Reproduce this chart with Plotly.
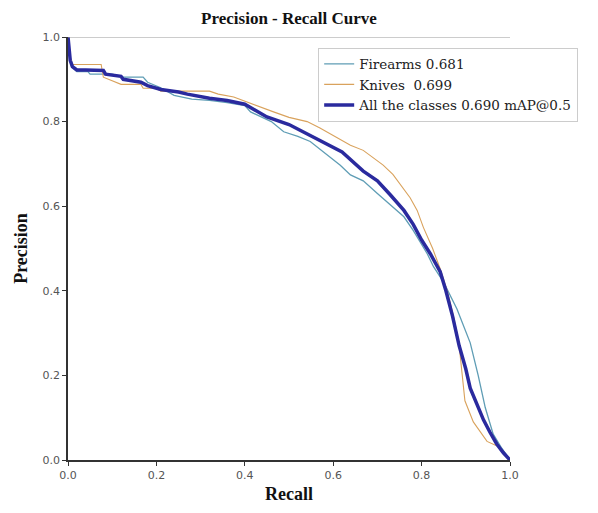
import plotly.graph_objects as go

# ---- data ----
firearms_r = [0, 0.003, 0.008, 0.02, 0.045, 0.05, 0.10, 0.125, 0.17, 0.18, 0.21, 0.24, 0.28, 0.32,
              0.36, 0.40, 0.413, 0.44, 0.46, 0.488, 0.52, 0.548, 0.58, 0.616, 0.639, 0.668, 0.70,
              0.729, 0.76, 0.781, 0.80, 0.813, 0.827, 0.85, 0.88, 0.91, 0.928, 0.944, 0.962, 0.98, 1.0]
firearms_p = [1.0, 0.96, 0.93, 0.918, 0.918, 0.912, 0.912, 0.905, 0.905, 0.893, 0.88, 0.862, 0.853, 0.85,
              0.845, 0.838, 0.823, 0.81, 0.80, 0.776, 0.765, 0.753, 0.727, 0.697, 0.674, 0.66, 0.63,
              0.604, 0.575, 0.543, 0.51, 0.487, 0.457, 0.42, 0.357, 0.277, 0.2, 0.124, 0.061, 0.03, 0.0]

knives_r = [0, 0.003, 0.01, 0.075, 0.08, 0.12, 0.165, 0.17, 0.20, 0.21, 0.32, 0.34, 0.375, 0.42,
            0.465, 0.50, 0.541, 0.57, 0.60, 0.639, 0.668, 0.713, 0.735, 0.752, 0.774, 0.79, 0.804,
            0.825, 0.842, 0.858, 0.872, 0.884, 0.890, 0.898, 0.917, 0.948, 0.977, 1.0]
knives_p = [1.0, 0.96, 0.935, 0.935, 0.905, 0.888, 0.888, 0.879, 0.879, 0.872, 0.872, 0.865, 0.858, 0.84,
            0.823, 0.81, 0.80, 0.785, 0.767, 0.744, 0.732, 0.697, 0.675, 0.65, 0.62, 0.59, 0.55,
            0.50, 0.452, 0.40, 0.34, 0.28, 0.22, 0.14, 0.09, 0.044, 0.03, 0.0]

all_r = [0, 0.002, 0.005, 0.01, 0.02, 0.04, 0.08, 0.085, 0.10, 0.12, 0.125, 0.165, 0.18, 0.21, 0.25,
         0.27, 0.32, 0.36, 0.40, 0.45, 0.50, 0.526, 0.56, 0.594, 0.62, 0.668, 0.70, 0.729, 0.76,
         0.781, 0.80, 0.82, 0.842, 0.855, 0.87, 0.885, 0.90, 0.91, 0.925, 0.94, 0.955, 0.97, 0.985, 1.0]
all_p = [1.0, 0.97, 0.945, 0.93, 0.922, 0.922, 0.921, 0.912, 0.910, 0.907, 0.90, 0.893, 0.885, 0.876, 0.870,
         0.865, 0.855, 0.85, 0.841, 0.811, 0.793, 0.779, 0.762, 0.744, 0.728, 0.683, 0.66, 0.627, 0.59,
         0.557, 0.52, 0.487, 0.445, 0.40, 0.34, 0.27, 0.215, 0.17, 0.13, 0.095, 0.065, 0.038, 0.017, 0.0]

names = ["Firearms 0.681", "Knives  0.699", "All the classes 0.690 mAP@0.5"]
tick_vals = [0, 0.2, 0.4, 0.6, 0.8, 1.0]
tick_text = ["0.0", "0.2", "0.4", "0.6", "0.8", "1.0"]

SERIF = "Liberation Serif"

fig = go.Figure()
fig.add_trace(go.Scatter(x=firearms_r, y=firearms_p, mode="lines", name=names[0],
                         line=dict(color="#5f9db5", width=1.3)))
fig.add_trace(go.Scatter(x=knives_r, y=knives_p, mode="lines", name=names[1],
                         line=dict(color="#d9a25c", width=1.1)))
fig.add_trace(go.Scatter(x=all_r, y=all_p, mode="lines", name=names[2],
                         line=dict(color="#2a2a9e", width=3.5)))

# thin top border line
fig.add_shape(type="line", xref="x", yref="y", x0=0, x1=1, y0=1, y1=1,
              line=dict(color="#999999", width=1))

fig.update_layout(
    width=598, height=513,
    margin=dict(l=68, r=88, t=37, b=47),
    paper_bgcolor="white", plot_bgcolor="white",
    title=dict(text="<b>Precision - Recall Curve</b>", x=(68 + 510) / 2 / 598, xanchor="center",
               y=1 - 18 / 513, yanchor="middle",
               font=dict(family=SERIF, size=17, color="#111111")),
    showlegend=True,
    legend=dict(x=0.566, y=0.975, xanchor="left", yanchor="top",
                bgcolor="white", bordercolor="#cccccc", borderwidth=1,
                font=dict(family="DejaVu Serif", size=13.5, color="#222222"),
                tracegroupgap=0, itemwidth=30),
    xaxis=dict(range=[0, 1], tickvals=tick_vals, ticktext=tick_text,
               showgrid=False, zeroline=False, showline=True, linecolor="#333333", linewidth=1.5,
               ticks="outside", ticklen=4, tickcolor="#333333",
               tickfont=dict(family="DejaVu Sans", size=11, color="#555555"),
               title=dict(text="<b>Recall</b>", font=dict(family=SERIF, size=18, color="#111111"),
                          standoff=6)),
    yaxis=dict(range=[0, 1], tickvals=tick_vals, ticktext=tick_text,
               showgrid=False, zeroline=False, showline=True, linecolor="#333333", linewidth=1.5,
               ticks="outside", ticklen=4, tickcolor="#333333",
               tickfont=dict(family="DejaVu Sans", size=11, color="#555555"),
               title=dict(text="<b>Precision</b>", font=dict(family=SERIF, size=18, color="#111111"),
                          standoff=10)),
)

fig.write_html("out.html")
